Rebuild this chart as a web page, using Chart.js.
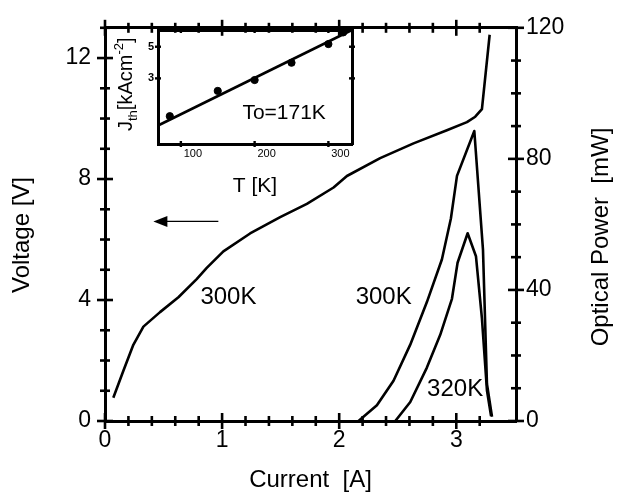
<!DOCTYPE html>
<html>
<head>
<meta charset="utf-8">
<script src="https://cdn.jsdelivr.net/npm/chart.js@4.4.1/dist/chart.umd.min.js"></script>
<style>
  html, body { margin: 0; padding: 0; background: #fff; overflow: hidden; }
  #wrap { position: relative; width: 618px; height: 495px; }
  #main { position: absolute; left: 0; top: 0; }
  #inset { position: absolute; left: 100px; top: 0; }
</style>
</head>
<body>
<div id="wrap">
  <canvas id="main" width="618" height="495"></canvas>
  <canvas id="inset" width="270" height="200"></canvas>
</div>
<script>
// main plot: voltage and optical power vs current
const voltCurrent = [0.071, 0.157, 0.242, 0.328, 0.470, 0.627, 0.783, 0.869, 1.011, 1.239, 1.496,
  1.724, 1.952, 2.066, 2.350, 2.635, 2.920, 3.091, 3.162, 3.219, 3.285];
const voltValues = [0.77, 1.66, 2.52, 3.12, 3.60, 4.09, 4.69, 5.06, 5.61, 6.20, 6.74,
  7.18, 7.72, 8.10, 8.69, 9.18, 9.61, 9.88, 10.06, 10.31, 12.77];

const power300Current = [2.165, 2.322, 2.464, 2.607, 2.749, 2.877, 2.954, 3.006, 3.154, 3.228, 3.262, 3.305];
const power300Values = [0, 4.8, 12.3, 23.3, 36.3, 49.3, 61.8, 74.8, 88.5, 52.3, 11.3, 1.3];

const power320Current = [2.479, 2.607, 2.749, 2.863, 2.963, 3.011, 3.097, 3.168, 3.219, 3.262, 3.297];
const power320Values = [0, 5.8, 16.3, 26.3, 37.3, 48.3, 57.3, 50.3, 31.3, 9.3, 1.5];

const currentLabels = [0, 1, 2, 3];
const voltageLabels = [0, 4, 8, 12];
const powerLabels = [0, 40, 80, 120];

// inset: threshold current density vs temperature
const tempK = [85, 150, 200, 250, 300, 320];
const jthValues = [1.63, 2.45, 2.92, 3.86, 5.22, 6.3];
const fitTemp = [69, 332];
const fitJth = [1.40, 6.55];
const insetTempLabels = [100, 200, 300];
const insetJthLabels = [3, 5];

const FONT = "'Liberation Sans', Arial, Helvetica, sans-serif";

const pairs = (xs, ys) => xs.map((x, i) => ({ x, y: ys[i] }));
const isOn = (v, step) => Math.abs(v / step - Math.round(v / step)) < 1e-6;

// ticks that cross the axis line, like the original figure
const crossTicks = {
  id: "crossTicks",
  afterDraw(chart, args, opts) {
    const ctx = chart.ctx;
    const area = chart.chartArea;
    ctx.save();
    ctx.strokeStyle = "#000";
    ctx.lineWidth = opts.width || 2.5;
    opts.axes.forEach((a) => {
      const scale = chart.scales[a.id];
      scale.ticks.forEach((t) => {
        if (a.step && !isOn(t.value, a.step)) return;
        const major = a.major ? isOn(t.value, a.major) : true;
        const len = major ? a.majorLen : a.minorLen;
        const p = scale.getPixelForValue(t.value);
        a.edges.forEach((edge) => {
          ctx.beginPath();
          if (edge === "bottom" || edge === "top") {
            const y = edge === "bottom" ? area.bottom : area.top;
            ctx.moveTo(p, y - len);
            ctx.lineTo(p, y + len);
          } else {
            const x = edge === "left" ? area.left : area.right;
            ctx.moveTo(x - len, p);
            ctx.lineTo(x + len, p);
          }
          ctx.stroke();
        });
      });
    });
    ctx.restore();
  },
};

// rotated axis titles reading bottom to top
const sideTitles = {
  id: "sideTitles",
  afterDraw(chart, args, opts) {
    const ctx = chart.ctx;
    (opts.items || []).forEach((t) => {
      ctx.save();
      ctx.translate(t.x, t.y);
      ctx.rotate(-Math.PI / 2);
      ctx.font = `${t.size}px ${FONT}`;
      ctx.fillStyle = "#000";
      ctx.textAlign = "center";
      ctx.textBaseline = "middle";
      ctx.fillText(t.text, 0, 0);
      ctx.restore();
    });
  },
};

// text labels and arrow placed in data coordinates
const notes = {
  id: "notes",
  afterDraw(chart, args, opts) {
    const ctx = chart.ctx;
    const sx = chart.scales.x;
    ctx.save();
    ctx.fillStyle = "#000";
    ctx.strokeStyle = "#000";
    (opts.texts || []).forEach((n) => {
      const sy = chart.scales[n.axis];
      ctx.font = `${n.size}px ${FONT}`;
      ctx.textAlign = "center";
      ctx.textBaseline = "middle";
      ctx.fillText(n.text, sx.getPixelForValue(n.x), sy.getPixelForValue(n.y));
    });
    (opts.arrows || []).forEach((a) => {
      const sy = chart.scales[a.axis];
      const x1 = sx.getPixelForValue(a.from[0]);
      const y1 = sy.getPixelForValue(a.from[1]);
      const x2 = sx.getPixelForValue(a.to[0]);
      const y2 = sy.getPixelForValue(a.to[1]);
      const ang = Math.atan2(y2 - y1, x2 - x1);
      ctx.lineWidth = 1.4;
      ctx.beginPath();
      ctx.moveTo(x1, y1);
      ctx.lineTo(x2 - 10 * Math.cos(ang), y2 - 10 * Math.sin(ang));
      ctx.stroke();
      ctx.beginPath();
      ctx.moveTo(x2, y2);
      ctx.lineTo(x2 - 14 * Math.cos(ang) + 5.5 * Math.sin(ang), y2 - 14 * Math.sin(ang) - 5.5 * Math.cos(ang));
      ctx.lineTo(x2 - 14 * Math.cos(ang) - 5.5 * Math.sin(ang), y2 - 14 * Math.sin(ang) + 5.5 * Math.cos(ang));
      ctx.closePath();
      ctx.fill();
    });
    ctx.restore();
  },
};

// J_th[kAcm^-2] with sub/superscript, rotated
const richTitle = {
  id: "richTitle",
  afterDraw(chart, args, opts) {
    const ctx = chart.ctx;
    ctx.save();
    ctx.translate(opts.x, opts.y);
    ctx.rotate(-Math.PI / 2);
    ctx.fillStyle = "#000";
    ctx.textAlign = "left";
    ctx.textBaseline = "alphabetic";
    let cx = 0;
    opts.parts.forEach((p) => {
      ctx.font = `${p.size}px ${FONT}`;
      ctx.fillText(p.text, cx, p.shift);
      cx += ctx.measureText(p.text).width;
    });
    ctx.restore();
  },
};

const frameBorder = { width: 3, color: "#000" };
const noGrid = { drawOnChartArea: false, drawTicks: false, color: "rgba(0,0,0,0)" };

new Chart(document.getElementById("main"), {
  type: "line",
  data: {
    datasets: [
      { label: "Voltage 300K", data: pairs(voltCurrent, voltValues), yAxisID: "y" },
      { label: "Power 300K", data: pairs(power300Current, power300Values), yAxisID: "y2" },
      { label: "Power 320K", data: pairs(power320Current, power320Values), yAxisID: "y2" },
    ],
  },
  options: {
    responsive: false,
    animation: false,
    devicePixelRatio: 1,
    layout: { padding: 0 },
    elements: {
      line: { borderColor: "#000", borderWidth: 2.6, tension: 0, borderJoinStyle: "round" },
      point: { radius: 0 },
    },
    plugins: {
      legend: { display: false },
      tooltip: { enabled: false },
      crossTicks: {
        width: 2.6,
        axes: [
          { id: "x", edges: ["bottom", "top"], step: 0.2, major: 1, minorLen: 5, majorLen: 8 },
          { id: "y", edges: ["left"], step: 1, major: 4, minorLen: 5, majorLen: 8 },
          { id: "y2", edges: ["right"], step: 10, major: 40, minorLen: 5, majorLen: 8 },
        ],
      },
      sideTitles: {
        items: [
          { text: "Voltage [V]", x: 22, y: 235, size: 24 },
          { text: "Optical Power  [mW]", x: 601, y: 237, size: 24 },
        ],
      },
      notes: {
        texts: [
          { text: "300K", x: 1.054, y: 4.09, axis: "y", size: 24 },
          { text: "300K", x: 2.38, y: 4.09, axis: "y", size: 24 },
          { text: "320K", x: 2.99, y: 9.6, axis: "y2", size: 24 },
        ],
        arrows: [{ from: [0.968, 6.6], to: [0.413, 6.6], axis: "y" }],
      },
    },
    scales: {
      x: {
        type: "linear",
        position: "bottom",
        min: 0,
        max: 3.51,
        grid: noGrid,
        border: frameBorder,
        ticks: {
          stepSize: 0.2,
          autoSkip: false,
          maxRotation: 0,
          padding: 6,
          color: "#000",
          font: { family: FONT, size: 23 },
          callback: (v) => (isOn(v, 1) && currentLabels.includes(Math.round(v)) ? String(Math.round(v)) : ""),
        },
        title: {
          display: true,
          text: "Current  [A]",
          color: "#000",
          font: { family: FONT, size: 24 },
          padding: { top: 0, bottom: 0 },
        },
        afterFit: (s) => { s.height = 74; },
      },
      x2: {
        type: "linear",
        position: "top",
        min: 0,
        max: 3.51,
        grid: noGrid,
        border: frameBorder,
        ticks: { display: false },
        afterFit: (s) => { s.height = 21; },
      },
      y: {
        type: "linear",
        position: "left",
        min: 0,
        max: 13,
        grid: noGrid,
        border: frameBorder,
        ticks: {
          stepSize: 1,
          autoSkip: false,
          padding: 14,
          color: "#000",
          font: { family: FONT, size: 23 },
          callback: (v) => (isOn(v, 1) && voltageLabels.includes(Math.round(v)) ? String(Math.round(v)) : ""),
        },
        afterFit: (s) => { s.width = 105; },
      },
      y2: {
        type: "linear",
        position: "right",
        min: 0,
        max: 120,
        grid: noGrid,
        border: frameBorder,
        ticks: {
          stepSize: 10,
          autoSkip: false,
          padding: 10,
          color: "#000",
          font: { family: FONT, size: 23 },
          callback: (v) => (isOn(v, 10) && powerLabels.includes(Math.round(v)) ? String(Math.round(v)) : ""),
        },
        afterFit: (s) => { s.width = 102; },
      },
    },
  },
  plugins: [crossTicks, sideTitles, notes],
});

new Chart(document.getElementById("inset"), {
  type: "scatter",
  data: {
    datasets: [
      {
        type: "line",
        label: "fit",
        data: pairs(fitTemp, fitJth),
        borderColor: "#000",
        borderWidth: 2.8,
        pointRadius: 0,
      },
      {
        type: "scatter",
        label: "Jth",
        data: pairs(tempK, jthValues),
        pointRadius: 3.6,
        backgroundColor: "#000",
        borderColor: "#000",
        clip: false,
      },
    ],
  },
  options: {
    responsive: false,
    animation: false,
    devicePixelRatio: 1,
    layout: { padding: 0 },
    plugins: {
      legend: { display: false },
      tooltip: { enabled: false },
      crossTicks: {
        width: 2.4,
        axes: [
          { id: "x", edges: ["bottom", "top"], minorLen: 3, majorLen: 3 },
          { id: "y", edges: ["left", "right"], minorLen: 3, majorLen: 3 },
        ],
      },
      notes: {
        texts: [{ text: "To=171K", x: 240, y: 1.72, axis: "y", size: 21 }],
      },
      richTitle: {
        x: 32,
        y: 131,
        parts: [
          { text: "J", size: 20, shift: 0 },
          { text: "th", size: 13, shift: 5 },
          { text: "[kAcm", size: 20, shift: 0 },
          { text: "-2", size: 13, shift: -9 },
          { text: "]", size: 20, shift: 0 },
        ],
      },
    },
    scales: {
      x: {
        type: "linear",
        position: "bottom",
        min: 69,
        max: 332,
        grid: noGrid,
        border: frameBorder,
        afterBuildTicks: (s) => { s.ticks = insetTempLabels.map((v) => ({ value: v })); },
        ticks: {
          labelOffset: 12,
          padding: 3,
          maxRotation: 0,
          color: "#000",
          font: { family: FONT, size: 11 },
          callback: (v) => String(v),
        },
        title: {
          display: true,
          text: "T [K]",
          color: "#000",
          font: { family: FONT, size: 21 },
          padding: { top: 0, bottom: 1 },
        },
        afterFit: (s) => { s.height = 56; },
      },
      xTop: {
        type: "linear",
        position: "top",
        min: 69,
        max: 332,
        grid: noGrid,
        border: frameBorder,
        ticks: { display: false },
        afterFit: (s) => { s.height = 30; },
      },
      y: {
        type: "logarithmic",
        position: "left",
        min: 1.04,
        max: 6.55,
        grid: noGrid,
        border: frameBorder,
        afterBuildTicks: (s) => { s.ticks = insetJthLabels.map((v) => ({ value: v })); },
        ticks: {
          padding: 4,
          color: "#000",
          font: { family: FONT, size: 11, weight: "bold" },
          callback: (v) => String(v),
        },
        afterFit: (s) => { s.width = 58; },
      },
      yRight: {
        type: "logarithmic",
        position: "right",
        min: 1.04,
        max: 6.55,
        grid: noGrid,
        border: frameBorder,
        ticks: { display: false },
        afterFit: (s) => { s.width = 18; },
      },
    },
  },
  plugins: [crossTicks, notes, richTitle],
});
</script>
</body>
</html>
